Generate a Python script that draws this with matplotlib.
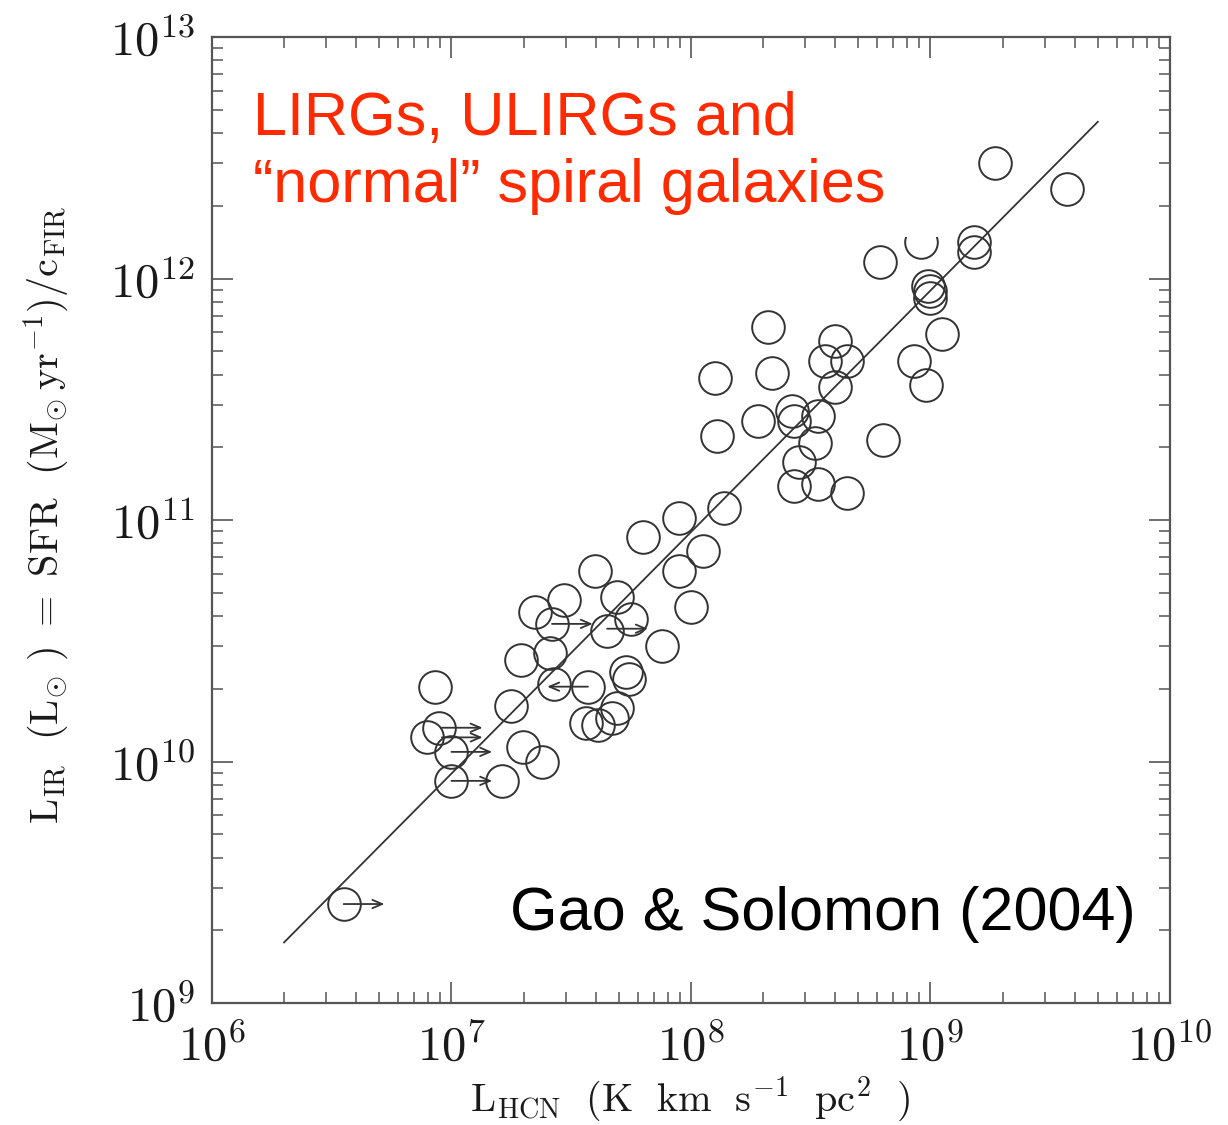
import matplotlib
matplotlib.use("Agg")
import matplotlib.pyplot as plt
from matplotlib.patches import Rectangle
import numpy as np

plt.rcParams["mathtext.fontset"] = "cm"

# log10 L_HCN and log10 L_IR
log_lhcn = [9.27, 9.57, 8.79, 8.96, 9.18, 9.18, 8.99, 9.00, 9.00, 9.05,
            8.93, 8.98, 8.80, 8.65, 8.32, 8.10, 8.34, 8.11, 8.28, 8.60,
            8.56, 8.65, 8.60, 8.42, 8.43, 8.53, 8.52, 8.45, 8.43, 8.53,
            8.14, 7.95, 7.80, 8.05, 7.95, 8.00, 7.88, 7.73, 7.60, 7.69,
            7.75, 7.65, 7.35, 7.47, 7.42, 7.29, 7.41, 7.43, 7.57, 7.74,
            7.25, 7.56, 7.61, 7.67, 7.69, 6.93, 6.95, 6.90, 7.00, 7.00,
            7.21, 7.30, 7.38, 6.55]
log_lir = [12.48, 12.37, 12.07, 12.15, 12.15, 12.11, 11.97, 11.95, 11.92, 11.77,
           11.66, 11.56, 11.33, 11.11, 11.80, 11.59, 11.61, 11.35, 11.41, 11.74,
           11.66, 11.66, 11.55, 11.45, 11.41, 11.43, 11.32, 11.24, 11.14, 11.15,
           11.05, 11.01, 10.93, 10.87, 10.79, 10.64, 10.48, 10.37, 10.79, 10.68,
           10.59, 10.54, 10.62, 10.67, 10.57, 10.42, 10.45, 10.32, 10.31, 10.34,
           10.23, 10.16, 10.15, 10.18, 10.22, 10.31, 10.14, 10.10, 10.04, 9.92,
           9.92, 10.06, 10.00, 9.41]

# limits: start point and direction of the arrow (+1 right, -1 left)
lim_lhcn = [6.55, 6.96, 6.96, 7.00, 7.00, 7.42, 7.65, 7.57]
lim_lir = [9.41, 10.14, 10.10, 10.04, 9.92, 10.57, 10.55, 10.31]
lim_dir = [1, 1, 1, 1, 1, 1, 1, -1]

# fit: log L_IR = slope * log L_HCN + icpt
slope = 1.00
icpt = 2.95
fit_range = [2e6, 5e9]

x = 10 ** np.array(log_lhcn)
y = 10 ** np.array(log_lir)

fig = plt.figure(figsize=(12.28, 11.25), dpi=100)
ax = fig.add_axes([0.1726, 0.1084, 0.7801, 0.8587])
ax.set_xscale("log")
ax.set_yscale("log")
ax.set_xlim(1e6, 1e10)
ax.set_ylim(1e9, 1e13)

ink = "#333333"

fx = np.array(fit_range)
ax.plot(fx, 10 ** (slope * np.log10(fx) + icpt), color=ink, lw=1.3, zorder=2)

ax.plot(x, y, "o", ms=23.5, mfc="none", mec=ink, mew=1.4, zorder=3)

for lx, ly, d in zip(lim_lhcn, lim_lir, lim_dir):
    ax.annotate("", xy=(10 ** (lx + d * 0.17), 10 ** ly), xytext=(10 ** lx, 10 ** ly),
                arrowprops=dict(arrowstyle="->,head_length=0.7,head_width=0.3",
                                color=ink, lw=1.3, shrinkA=0, shrinkB=0),
                zorder=3)

# white box behind the red label
ax.add_patch(Rectangle((0.025, 0.793), 0.745, 0.175, transform=ax.transAxes,
                       facecolor="white", edgecolor="none", zorder=4))

ax.text(0.043, 0.880, "LIRGs, ULIRGs and\n\u201cnormal\u201d spiral galaxies",
        transform=ax.transAxes, color="#ff2a00", fontsize=44,
        family="Liberation Sans", va="center", ha="left", linespacing=1.22, zorder=5)
ax.text(0.964, 0.092, "Gao & Solomon (2004)", transform=ax.transAxes,
        color="black", fontsize=44, family="Liberation Sans",
        va="center", ha="right", zorder=5)

for s in ax.spines.values():
    s.set_color("#555555")
    s.set_linewidth(1.6)

ax.tick_params(which="both", direction="in", top=True, right=True, colors="#555555",
               labelcolor="#1a1a1a")
ax.tick_params(which="major", length=15, width=1.2)
ax.tick_params(which="minor", length=8, width=1.1)
ax.tick_params(axis="x", which="major", pad=14)
ax.tick_params(axis="y", which="major", pad=12)

xt = [1e6, 1e7, 1e8, 1e9, 1e10]
yt = [1e9, 1e10, 1e11, 1e12, 1e13]
ax.set_xticks(xt)
ax.set_xticklabels([r"$10^{%d}$" % np.log10(v) for v in xt], fontsize=35)
ax.set_yticks(yt)
ax.set_yticklabels([r"$10^{%d}$" % np.log10(v) for v in yt], fontsize=35)

ax.set_xlabel(r"$\mathrm{L_{HCN}\ \ (K\ \ km\ \ s^{-1}\ \ pc^{2}\ \ )}$", fontsize=29,
              color="#1a1a1a")
ax.xaxis.set_label_coords(0.499, -0.100)
ax.xaxis.label.set_va("center")
ax.set_ylabel(r"$\mathrm{L_{IR}\ \ (L_{\odot}\ )\ =\ SFR\ \ (M_{\odot}\,yr^{-1})/c_{FIR}}$",
              fontsize=29, color="#1a1a1a")
ax.yaxis.set_label_coords(-0.172, 0.505)
ax.yaxis.label.set_va("center")

fig.savefig("out.png", dpi=100)
